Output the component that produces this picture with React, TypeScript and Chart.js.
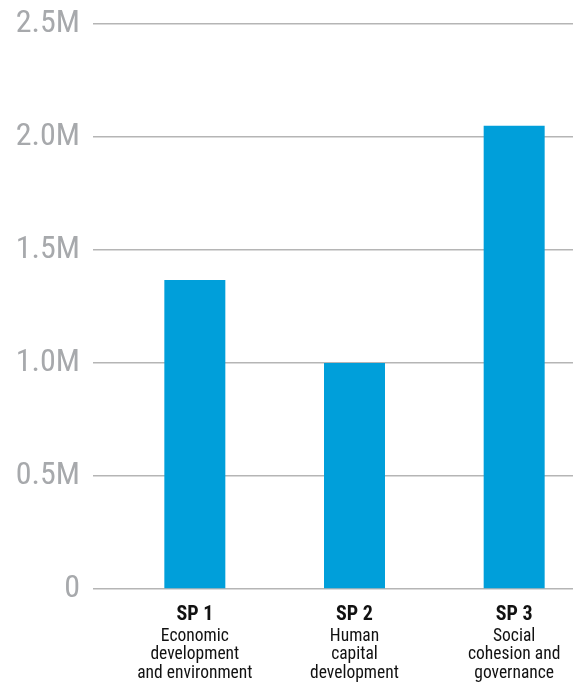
import React, { useEffect, useRef } from "react";
import { Chart, registerables } from "chart.js";

Chart.register(...registerables);

const categories = ["SP 1", "SP 2", "SP 3"];
const descriptions = [
  ["Economic", "development", "and environment"],
  ["Human", "capital", "development"],
  ["Social", "cohesion and", "governance"],
];
const values = [1367000, 1000000, 2050000];
const yTickValues = [0, 500000, 1000000, 1500000, 2000000, 2500000];
const yTickLabels = ["0", "0.5M", "1.0M", "1.5M", "2.0M", "2.5M"];

const FONT = "'Roboto Condensed', 'Liberation Sans Narrow', 'Arial Narrow', Roboto, sans-serif";

export default function App() {
  const ref = useRef<HTMLCanvasElement | null>(null);
  useEffect(() => {
    if (!ref.current) return;
    const chart = new Chart(ref.current, {
      type: "bar",
      data: {
        labels: categories,
        datasets: [
          {
            data: values,
            backgroundColor: "#009fda",
            borderWidth: 0,
            barPercentage: 0.382,
            categoryPercentage: 1,
            xAxisID: "x",
          },
        ],
      },
      options: {
        animation: false,
        responsive: false,
        layout: { padding: 0 },
        plugins: { legend: { display: false }, tooltip: { enabled: false } },
        scales: {
          y: {
            min: 0,
            max: 2500000,
            afterFit: (s: any) => {
              s.width = 115;
              s.paddingTop = 24;
              s.paddingBottom = 0;
            },
            afterBuildTicks: (s: any) => {
              s.ticks = yTickValues.map((v) => ({ value: v }));
            },
            ticks: {
              callback: (v: any) => yTickLabels[yTickValues.indexOf(Number(v))] ?? "",
              color: "#a7a9ac",
              font: { family: FONT, size: 32 },
              padding: 13,
            },
            grid: { color: "#b5b5b5", lineWidth: 1.5, tickLength: 22, drawTicks: true },
            border: { display: false },
          },
          x: {
            position: "bottom",
            grid: { display: false },
            border: { display: false },
            afterFit: (s: any) => {
              s.height = 38;
              s.paddingLeft = 0;
              s.paddingRight = 0;
            },
            ticks: {
              color: "#111",
              font: { family: FONT, size: 20, weight: "bold" },
              padding: 6,
              maxRotation: 0,
              autoSkip: false,
            },
          },
          x2: {
            type: "category",
            position: "bottom",
            labels: categories,
            grid: { display: false, drawTicks: false },
            border: { display: false },
            afterFit: (s: any) => {
              s.height = 57;
              s.paddingLeft = 0;
              s.paddingRight = 0;
            },
            ticks: {
              callback: (_v: any, i: number) => descriptions[i],
              color: "#111",
              font: { family: FONT, size: 17.5, lineHeight: 1.06 },
              padding: 0,
              maxRotation: 0,
              autoSkip: false,
            },
          },
        },
      },
    });
    return () => chart.destroy();
  }, []);
  return (
    <div style={{ position: "fixed", left: 0, top: 0, width: 573, height: 684, overflow: "hidden", background: "#fff" }}>
      <canvas ref={ref} width={594} height={684} style={{ display: "block" }} />
    </div>
  );
}
